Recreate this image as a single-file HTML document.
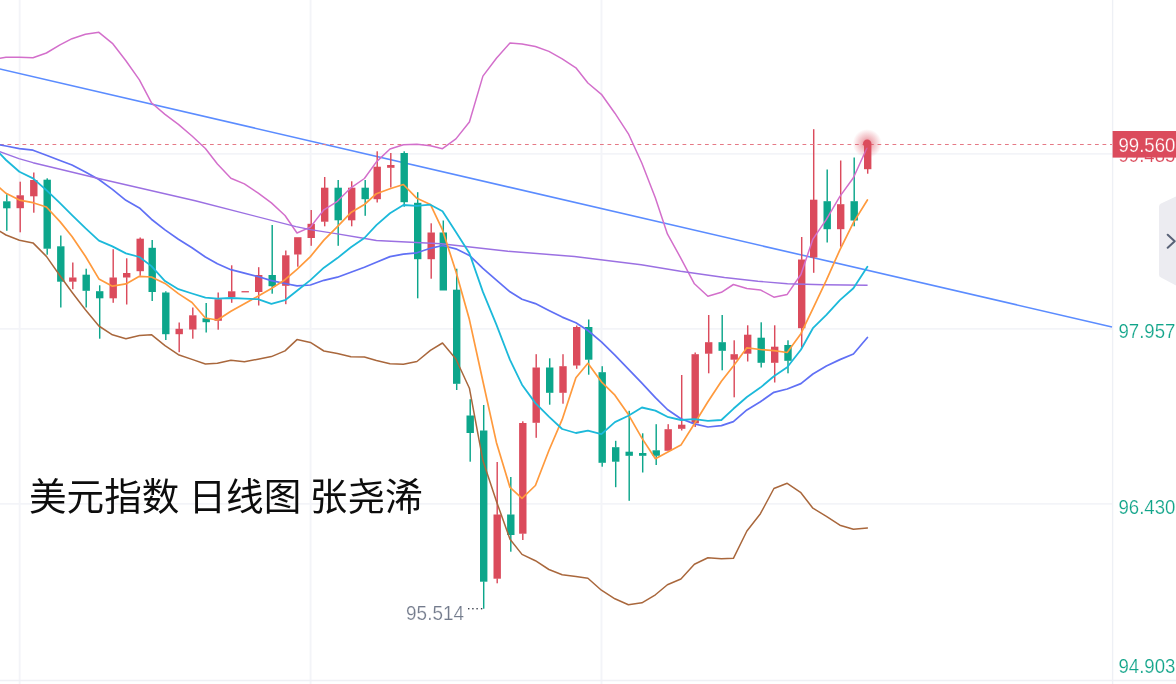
<!DOCTYPE html>
<html lang="zh-CN">
<head>
<meta charset="utf-8">
<title>美元指数 日线图</title>
<style>
html,body{margin:0;padding:0;background:#fff;}
body{width:1176px;height:684px;overflow:hidden;position:relative;font-family:"Liberation Sans","Noto Sans CJK SC",sans-serif;}
#chart{position:absolute;left:0;top:0;width:1176px;height:684px;display:block;}
.title{position:absolute;top:470.6px;height:52px;line-height:52px;font-size:37.6px;color:#0d0d0d;white-space:nowrap;font-family:"Liberation Sans","Noto Sans CJK SC",sans-serif;font-weight:400;}
svg text{font-family:"Liberation Sans","Noto Sans CJK SC",sans-serif;}
</style>
</head>
<body>
<svg id="chart" width="1176" height="684" viewBox="0 0 1176 684">
<defs>
<radialGradient id="glow" cx="50%" cy="50%" r="50%">
<stop offset="0" stop-color="#db4b5c" stop-opacity="0.7"/>
<stop offset="0.45" stop-color="#db4b5c" stop-opacity="0.36"/>
<stop offset="1" stop-color="#db4b5c" stop-opacity="0"/>
</radialGradient>
</defs>
<rect x="0" y="0" width="1176" height="684" fill="#ffffff"/>
<g stroke="#f3f4f8" stroke-width="1.9" fill="none">
<line x1="19.65" y1="0" x2="19.65" y2="684"/>
<line x1="310.56" y1="0" x2="310.56" y2="684"/>
<line x1="601.48" y1="0" x2="601.48" y2="684"/>
<line x1="0" y1="153.9" x2="1112" y2="153.9"/>
<line x1="0" y1="328.9" x2="1112" y2="328.9"/>
<line x1="0" y1="503.9" x2="1112" y2="503.9"/>
</g>
<line x1="0" y1="680.5" x2="1176" y2="680.5" stroke="#eff0f5" stroke-width="1.5"/>
<line x1="1112.6" y1="0" x2="1112.6" y2="684" stroke="#eef0f5" stroke-width="1.4"/>

<line x1="-1" y1="68.8" x2="1112" y2="327" stroke="#5b8cff" stroke-width="1.6"/>
<g>
<rect x="6.08" y="194.2" width="1.44" height="7.4" fill="#0ca68b"/>
<rect x="6.08" y="208.0" width="1.44" height="22.8" fill="#0ca68b"/>
<rect x="3.1" y="201.3" width="7.4" height="7.0" fill="#0ca68b"/>
<rect x="19.48" y="181.7" width="1.44" height="13.9" fill="#db4b5c"/>
<rect x="19.48" y="207.9" width="1.44" height="24.4" fill="#db4b5c"/>
<rect x="16.5" y="195.3" width="7.4" height="12.9" fill="#db4b5c"/>
<rect x="33.08" y="172.5" width="1.44" height="7.8" fill="#db4b5c"/>
<rect x="33.08" y="196.0" width="1.44" height="16.7" fill="#db4b5c"/>
<rect x="30.1" y="180.0" width="7.4" height="16.3" fill="#db4b5c"/>
<rect x="46.48" y="178.3" width="1.44" height="1.7" fill="#0ca68b"/>
<rect x="46.48" y="248.4" width="1.44" height="6.3" fill="#0ca68b"/>
<rect x="43.5" y="179.7" width="7.4" height="69.0" fill="#0ca68b"/>
<rect x="60.08" y="235.5" width="1.44" height="11.1" fill="#0ca68b"/>
<rect x="60.08" y="281.4" width="1.44" height="26.1" fill="#0ca68b"/>
<rect x="57.1" y="246.3" width="7.4" height="35.4" fill="#0ca68b"/>
<rect x="72.08" y="262.5" width="1.44" height="15.3" fill="#db4b5c"/>
<rect x="72.08" y="281.4" width="1.44" height="7.8" fill="#db4b5c"/>
<rect x="69.1" y="277.5" width="7.4" height="4.2" fill="#db4b5c"/>
<rect x="85.48" y="268.7" width="1.44" height="6.3" fill="#0ca68b"/>
<rect x="85.48" y="290.5" width="1.44" height="17.0" fill="#0ca68b"/>
<rect x="82.5" y="274.7" width="7.4" height="16.1" fill="#0ca68b"/>
<rect x="98.98" y="285.3" width="1.44" height="6.2" fill="#0ca68b"/>
<rect x="98.98" y="298.0" width="1.44" height="40.7" fill="#0ca68b"/>
<rect x="96.0" y="291.2" width="7.4" height="7.1" fill="#0ca68b"/>
<rect x="112.48" y="249.2" width="1.44" height="28.6" fill="#db4b5c"/>
<rect x="112.48" y="298.0" width="1.44" height="4.8" fill="#db4b5c"/>
<rect x="109.5" y="277.5" width="7.4" height="20.8" fill="#db4b5c"/>
<rect x="125.98" y="258.3" width="1.44" height="15.0" fill="#db4b5c"/>
<rect x="125.98" y="277.2" width="1.44" height="27.3" fill="#db4b5c"/>
<rect x="123.0" y="273.0" width="7.4" height="4.5" fill="#db4b5c"/>
<rect x="139.48" y="237.5" width="1.44" height="1.5" fill="#db4b5c"/>
<rect x="139.48" y="270.9" width="1.44" height="4.9" fill="#db4b5c"/>
<rect x="136.5" y="238.7" width="7.4" height="32.5" fill="#db4b5c"/>
<rect x="151.48" y="240.0" width="1.44" height="8.1" fill="#0ca68b"/>
<rect x="151.48" y="291.7" width="1.44" height="9.3" fill="#0ca68b"/>
<rect x="148.5" y="247.8" width="7.4" height="44.2" fill="#0ca68b"/>
<rect x="165.08" y="291.3" width="1.44" height="1.5" fill="#0ca68b"/>
<rect x="165.08" y="333.9" width="1.44" height="6.1" fill="#0ca68b"/>
<rect x="162.1" y="292.5" width="7.4" height="41.7" fill="#0ca68b"/>
<rect x="178.48" y="322.5" width="1.44" height="6.6" fill="#db4b5c"/>
<rect x="178.48" y="333.9" width="1.44" height="18.3" fill="#db4b5c"/>
<rect x="175.5" y="328.8" width="7.4" height="5.4" fill="#db4b5c"/>
<rect x="192.08" y="307.5" width="1.44" height="8.1" fill="#db4b5c"/>
<rect x="192.08" y="329.2" width="1.44" height="9.5" fill="#db4b5c"/>
<rect x="189.1" y="315.3" width="7.4" height="14.2" fill="#db4b5c"/>
<rect x="205.48" y="303.0" width="1.44" height="15.6" fill="#0ca68b"/>
<rect x="205.48" y="321.9" width="1.44" height="10.6" fill="#0ca68b"/>
<rect x="202.5" y="318.3" width="7.4" height="3.9" fill="#0ca68b"/>
<rect x="217.48" y="292.5" width="1.44" height="7.0" fill="#db4b5c"/>
<rect x="217.48" y="320.5" width="1.44" height="9.2" fill="#db4b5c"/>
<rect x="214.5" y="299.2" width="7.4" height="21.6" fill="#db4b5c"/>
<rect x="230.98" y="265.3" width="1.44" height="26.3" fill="#db4b5c"/>
<rect x="230.98" y="296.7" width="1.44" height="6.1" fill="#db4b5c"/>
<rect x="228.0" y="291.3" width="7.4" height="5.7" fill="#db4b5c"/>
<rect x="241.5" y="291.1" width="7.4" height="1.3" fill="#db4b5c"/>
<rect x="257.98" y="267.2" width="1.44" height="8.1" fill="#db4b5c"/>
<rect x="257.98" y="291.7" width="1.44" height="13.8" fill="#db4b5c"/>
<rect x="255.0" y="275.0" width="7.4" height="17.0" fill="#db4b5c"/>
<rect x="271.48" y="225.0" width="1.44" height="50.3" fill="#0ca68b"/>
<rect x="271.48" y="285.9" width="1.44" height="7.8" fill="#0ca68b"/>
<rect x="268.5" y="275.0" width="7.4" height="11.2" fill="#0ca68b"/>
<rect x="285.08" y="250.5" width="1.44" height="5.1" fill="#db4b5c"/>
<rect x="285.08" y="285.5" width="1.44" height="18.7" fill="#db4b5c"/>
<rect x="282.1" y="255.3" width="7.4" height="30.5" fill="#db4b5c"/>
<rect x="297.08" y="254.2" width="1.44" height="12.5" fill="#db4b5c"/>
<rect x="294.1" y="237.2" width="7.4" height="17.3" fill="#db4b5c"/>
<rect x="310.48" y="210.0" width="1.44" height="14.1" fill="#db4b5c"/>
<rect x="310.48" y="237.7" width="1.44" height="8.1" fill="#db4b5c"/>
<rect x="307.5" y="223.8" width="7.4" height="14.2" fill="#db4b5c"/>
<rect x="323.98" y="177.0" width="1.44" height="11.0" fill="#db4b5c"/>
<rect x="323.98" y="221.4" width="1.44" height="4.9" fill="#db4b5c"/>
<rect x="321.0" y="187.7" width="7.4" height="34.0" fill="#db4b5c"/>
<rect x="337.48" y="180.0" width="1.44" height="8.0" fill="#0ca68b"/>
<rect x="337.48" y="220.0" width="1.44" height="25.8" fill="#0ca68b"/>
<rect x="334.5" y="187.7" width="7.4" height="32.6" fill="#0ca68b"/>
<rect x="350.98" y="181.3" width="1.44" height="6.7" fill="#db4b5c"/>
<rect x="350.98" y="220.0" width="1.44" height="6.3" fill="#db4b5c"/>
<rect x="348.0" y="187.7" width="7.4" height="32.6" fill="#db4b5c"/>
<rect x="364.48" y="180.0" width="1.44" height="8.0" fill="#0ca68b"/>
<rect x="364.48" y="198.9" width="1.44" height="16.9" fill="#0ca68b"/>
<rect x="361.5" y="187.7" width="7.4" height="11.5" fill="#0ca68b"/>
<rect x="376.48" y="151.3" width="1.44" height="15.7" fill="#db4b5c"/>
<rect x="376.48" y="198.9" width="1.44" height="3.6" fill="#db4b5c"/>
<rect x="373.5" y="166.7" width="7.4" height="32.5" fill="#db4b5c"/>
<rect x="390.08" y="153.0" width="1.44" height="12.3" fill="#db4b5c"/>
<rect x="390.08" y="167.5" width="1.44" height="20.0" fill="#db4b5c"/>
<rect x="387.1" y="165.0" width="7.4" height="2.8" fill="#db4b5c"/>
<rect x="403.48" y="151.3" width="1.44" height="2.0" fill="#0ca68b"/>
<rect x="403.48" y="201.9" width="1.44" height="4.8" fill="#0ca68b"/>
<rect x="400.5" y="153.0" width="7.4" height="49.2" fill="#0ca68b"/>
<rect x="416.98" y="192.2" width="1.44" height="10.9" fill="#0ca68b"/>
<rect x="416.98" y="258.9" width="1.44" height="39.4" fill="#0ca68b"/>
<rect x="414.0" y="202.8" width="7.4" height="56.4" fill="#0ca68b"/>
<rect x="430.48" y="223.3" width="1.44" height="9.5" fill="#db4b5c"/>
<rect x="430.48" y="258.9" width="1.44" height="19.8" fill="#db4b5c"/>
<rect x="427.5" y="232.5" width="7.4" height="26.7" fill="#db4b5c"/>
<rect x="442.58" y="220.5" width="1.44" height="12.3" fill="#0ca68b"/>
<rect x="439.6" y="232.5" width="7.4" height="58.0" fill="#0ca68b"/>
<rect x="455.98" y="268.7" width="1.44" height="21.3" fill="#0ca68b"/>
<rect x="455.98" y="383.5" width="1.44" height="6.5" fill="#0ca68b"/>
<rect x="453.0" y="289.7" width="7.4" height="94.1" fill="#0ca68b"/>
<rect x="469.48" y="399.2" width="1.44" height="16.6" fill="#0ca68b"/>
<rect x="469.48" y="432.7" width="1.44" height="29.0" fill="#0ca68b"/>
<rect x="466.5" y="415.5" width="7.4" height="17.5" fill="#0ca68b"/>
<rect x="482.98" y="405.0" width="1.44" height="25.8" fill="#0ca68b"/>
<rect x="482.98" y="581.4" width="1.44" height="27.3" fill="#0ca68b"/>
<rect x="480.0" y="430.5" width="7.4" height="151.2" fill="#0ca68b"/>
<rect x="496.48" y="462.0" width="1.44" height="52.8" fill="#db4b5c"/>
<rect x="496.48" y="578.4" width="1.44" height="4.9" fill="#db4b5c"/>
<rect x="493.5" y="514.5" width="7.4" height="64.2" fill="#db4b5c"/>
<rect x="510.08" y="477.0" width="1.44" height="37.8" fill="#0ca68b"/>
<rect x="510.08" y="534.7" width="1.44" height="17.0" fill="#0ca68b"/>
<rect x="507.1" y="514.5" width="7.4" height="20.5" fill="#0ca68b"/>
<rect x="522.08" y="421.3" width="1.44" height="2.0" fill="#db4b5c"/>
<rect x="522.08" y="533.4" width="1.44" height="6.6" fill="#db4b5c"/>
<rect x="519.1" y="423.0" width="7.4" height="110.7" fill="#db4b5c"/>
<rect x="535.48" y="354.2" width="1.44" height="13.6" fill="#db4b5c"/>
<rect x="535.48" y="422.5" width="1.44" height="15.3" fill="#db4b5c"/>
<rect x="532.5" y="367.5" width="7.4" height="55.3" fill="#db4b5c"/>
<rect x="548.98" y="358.3" width="1.44" height="9.5" fill="#0ca68b"/>
<rect x="548.98" y="392.5" width="1.44" height="12.2" fill="#0ca68b"/>
<rect x="546.0" y="367.5" width="7.4" height="25.3" fill="#0ca68b"/>
<rect x="562.28" y="354.2" width="1.44" height="12.3" fill="#db4b5c"/>
<rect x="562.28" y="392.5" width="1.44" height="11.2" fill="#db4b5c"/>
<rect x="559.3" y="366.2" width="7.4" height="26.6" fill="#db4b5c"/>
<rect x="575.98" y="325.5" width="1.44" height="1.8" fill="#db4b5c"/>
<rect x="575.98" y="365.2" width="1.44" height="3.6" fill="#db4b5c"/>
<rect x="573.0" y="327.0" width="7.4" height="38.5" fill="#db4b5c"/>
<rect x="587.98" y="319.5" width="1.44" height="7.8" fill="#0ca68b"/>
<rect x="587.98" y="359.4" width="1.44" height="15.3" fill="#0ca68b"/>
<rect x="585.0" y="327.0" width="7.4" height="32.7" fill="#0ca68b"/>
<rect x="601.48" y="366.2" width="1.44" height="6.3" fill="#0ca68b"/>
<rect x="601.48" y="462.5" width="1.44" height="4.2" fill="#0ca68b"/>
<rect x="598.5" y="372.2" width="7.4" height="90.6" fill="#0ca68b"/>
<rect x="614.98" y="440.8" width="1.44" height="6.7" fill="#0ca68b"/>
<rect x="614.98" y="461.4" width="1.44" height="25.8" fill="#0ca68b"/>
<rect x="612.0" y="447.2" width="7.4" height="14.5" fill="#0ca68b"/>
<rect x="628.48" y="410.8" width="1.44" height="41.2" fill="#0ca68b"/>
<rect x="628.48" y="455.5" width="1.44" height="45.3" fill="#0ca68b"/>
<rect x="625.5" y="451.7" width="7.4" height="4.1" fill="#0ca68b"/>
<rect x="641.98" y="433.3" width="1.44" height="20.0" fill="#0ca68b"/>
<rect x="641.98" y="455.5" width="1.44" height="17.0" fill="#0ca68b"/>
<rect x="639.0" y="453.0" width="7.4" height="2.8" fill="#0ca68b"/>
<rect x="655.48" y="424.2" width="1.44" height="26.4" fill="#0ca68b"/>
<rect x="655.48" y="455.5" width="1.44" height="9.5" fill="#0ca68b"/>
<rect x="652.5" y="450.3" width="7.4" height="5.5" fill="#0ca68b"/>
<rect x="667.48" y="424.2" width="1.44" height="5.3" fill="#db4b5c"/>
<rect x="664.5" y="429.2" width="7.4" height="21.6" fill="#db4b5c"/>
<rect x="680.98" y="375.0" width="1.44" height="50.0" fill="#db4b5c"/>
<rect x="680.98" y="428.5" width="1.44" height="2.0" fill="#db4b5c"/>
<rect x="678.0" y="424.7" width="7.4" height="4.1" fill="#db4b5c"/>
<rect x="694.48" y="352.5" width="1.44" height="2.0" fill="#db4b5c"/>
<rect x="694.48" y="423.0" width="1.44" height="4.0" fill="#db4b5c"/>
<rect x="691.5" y="354.2" width="7.4" height="69.1" fill="#db4b5c"/>
<rect x="707.98" y="315.0" width="1.44" height="27.5" fill="#db4b5c"/>
<rect x="707.98" y="353.4" width="1.44" height="19.9" fill="#db4b5c"/>
<rect x="705.0" y="342.2" width="7.4" height="11.5" fill="#db4b5c"/>
<rect x="721.48" y="315.0" width="1.44" height="27.5" fill="#0ca68b"/>
<rect x="721.48" y="350.5" width="1.44" height="19.8" fill="#0ca68b"/>
<rect x="718.5" y="342.2" width="7.4" height="8.6" fill="#0ca68b"/>
<rect x="733.48" y="340.3" width="1.44" height="14.2" fill="#db4b5c"/>
<rect x="733.48" y="359.4" width="1.44" height="37.9" fill="#db4b5c"/>
<rect x="730.5" y="354.2" width="7.4" height="5.5" fill="#db4b5c"/>
<rect x="746.98" y="325.3" width="1.44" height="9.7" fill="#db4b5c"/>
<rect x="746.98" y="353.4" width="1.44" height="8.1" fill="#db4b5c"/>
<rect x="744.0" y="334.7" width="7.4" height="19.0" fill="#db4b5c"/>
<rect x="760.48" y="322.3" width="1.44" height="15.7" fill="#0ca68b"/>
<rect x="760.48" y="362.5" width="1.44" height="5.0" fill="#0ca68b"/>
<rect x="757.5" y="337.7" width="7.4" height="25.1" fill="#0ca68b"/>
<rect x="773.98" y="325.3" width="1.44" height="21.7" fill="#db4b5c"/>
<rect x="773.98" y="362.5" width="1.44" height="20.0" fill="#db4b5c"/>
<rect x="771.0" y="346.7" width="7.4" height="16.1" fill="#db4b5c"/>
<rect x="787.28" y="340.3" width="1.44" height="5.0" fill="#0ca68b"/>
<rect x="787.28" y="360.5" width="1.44" height="12.8" fill="#0ca68b"/>
<rect x="784.3" y="345.0" width="7.4" height="15.8" fill="#0ca68b"/>
<rect x="800.98" y="237.0" width="1.44" height="22.8" fill="#db4b5c"/>
<rect x="800.98" y="327.9" width="1.44" height="19.6" fill="#db4b5c"/>
<rect x="798.0" y="259.5" width="7.4" height="68.7" fill="#db4b5c"/>
<rect x="812.98" y="129.2" width="1.44" height="70.8" fill="#db4b5c"/>
<rect x="812.98" y="257.2" width="1.44" height="15.6" fill="#db4b5c"/>
<rect x="810.0" y="199.7" width="7.4" height="57.8" fill="#db4b5c"/>
<rect x="826.48" y="169.5" width="1.44" height="32.0" fill="#0ca68b"/>
<rect x="826.48" y="228.9" width="1.44" height="13.6" fill="#0ca68b"/>
<rect x="823.5" y="201.2" width="7.4" height="28.0" fill="#0ca68b"/>
<rect x="839.98" y="160.5" width="1.44" height="44.0" fill="#db4b5c"/>
<rect x="839.98" y="228.9" width="1.44" height="17.8" fill="#db4b5c"/>
<rect x="837.0" y="204.2" width="7.4" height="25.0" fill="#db4b5c"/>
<rect x="853.48" y="157.5" width="1.44" height="44.0" fill="#0ca68b"/>
<rect x="853.48" y="220.2" width="1.44" height="6.1" fill="#0ca68b"/>
<rect x="850.5" y="201.2" width="7.4" height="19.3" fill="#0ca68b"/>
<rect x="866.98" y="168.9" width="1.44" height="4.8" fill="#db4b5c"/>
<rect x="864.0" y="144.2" width="7.4" height="25.0" fill="#db4b5c"/>
</g>
<line x1="0" y1="144.5" x2="1112" y2="144.5" stroke="#e57985" stroke-width="1.15" stroke-dasharray="3.75 3.75"/>
<polyline points="-1.0,58.4 6.0,57.3 19.4,57.3 33.0,57.7 46.4,53.0 60.0,44.8 72.0,38.7 85.4,34.3 98.9,32.3 112.4,43.3 125.9,60.7 139.4,79.9 151.4,102.7 165.0,114.4 178.4,124.4 192.0,136.0 205.4,148.5 217.4,164.0 230.9,178.2 244.4,183.9 257.9,192.9 271.4,202.9 285.0,215.5 297.0,233.0 310.4,227.1 323.9,209.8 337.4,201.3 350.9,187.8 364.4,178.5 376.4,161.9 390.0,149.0 403.4,144.7 416.9,144.2 430.4,145.7 442.5,148.7 455.9,138.9 469.4,122.0 482.9,76.1 496.4,58.2 510.0,43.0 522.0,43.9 535.4,46.5 548.9,51.4 562.2,58.8 575.9,67.8 587.9,83.0 601.4,94.3 614.9,113.2 628.4,133.8 641.9,163.2 655.4,197.9 667.4,233.9 680.9,258.3 694.4,283.8 707.9,296.3 721.4,292.3 733.4,284.5 746.9,288.5 760.4,289.9 773.9,297.2 787.2,294.4 800.9,274.5 812.9,239.1 826.4,219.4 839.9,196.4 853.4,177.8 867.4,147.0" fill="none" stroke="#d36fcb" stroke-width="1.5" stroke-linejoin="round" stroke-linecap="round"/>
<polyline points="-1.0,230.7 6.0,235.0 19.4,240.2 33.0,242.9 46.4,256.4 60.0,275.8 72.0,292.2 85.4,309.7 98.9,326.0 112.4,334.8 125.9,338.7 139.4,335.5 151.4,334.7 165.0,345.6 178.4,354.7 192.0,359.4 205.4,364.0 217.4,363.3 230.9,360.3 244.4,361.7 257.9,359.2 271.4,356.6 285.0,350.9 297.0,339.6 310.4,342.4 323.9,351.0 337.4,353.4 350.9,356.8 364.4,357.0 376.4,360.5 390.0,363.8 403.4,364.3 416.9,361.5 430.4,350.4 442.5,343.0 455.9,359.0 469.4,388.2 482.9,460.6 496.4,501.2 510.0,539.3 522.0,554.4 535.4,560.7 548.9,569.5 562.2,574.7 575.9,576.4 587.9,578.2 601.4,590.2 614.9,598.8 628.4,604.7 641.9,602.8 655.4,594.8 667.4,584.7 680.9,579.0 694.4,564.2 707.9,557.7 721.4,558.7 733.4,558.3 746.9,531.0 760.4,513.7 773.9,488.5 787.2,483.3 800.9,492.7 812.9,508.2 826.4,516.3 839.9,525.2 853.4,529.3 867.4,528.0" fill="none" stroke="#a9673c" stroke-width="1.5" stroke-linejoin="round" stroke-linecap="round"/>
<polyline points="-1.0,144.6 6.0,146.0 19.4,148.6 33.0,150.2 46.4,155.2 60.0,160.5 72.0,165.0 85.4,171.9 98.9,179.5 112.4,189.4 125.9,200.3 139.4,207.9 151.4,219.2 165.0,229.9 178.4,239.2 192.0,247.8 205.4,257.0 217.4,263.8 230.9,269.7 244.4,273.1 257.9,276.5 271.4,280.6 285.0,283.5 297.0,285.8 310.4,285.0 323.9,280.3 337.4,277.2 350.9,272.3 364.4,267.3 376.4,262.3 390.0,256.6 403.4,254.1 416.9,252.8 430.4,248.3 442.5,245.5 455.9,248.8 469.4,255.4 482.9,268.4 496.4,280.1 510.0,291.8 522.0,299.2 535.4,303.6 548.9,310.4 562.2,317.1 575.9,322.7 587.9,330.5 601.4,341.8 614.9,355.2 628.4,369.2 641.9,383.2 655.4,397.6 667.4,409.5 680.9,418.7 694.4,423.9 707.9,427.0 721.4,425.6 733.4,421.6 746.9,409.9 760.4,401.8 773.9,392.3 787.2,389.0 800.9,383.6 812.9,374.0 826.4,366.0 839.9,359.6 853.4,354.0 867.4,337.5" fill="none" stroke="#6070f5" stroke-width="1.72" stroke-linejoin="round" stroke-linecap="round"/>
<polyline points="-1.0,151.4 18.9,158.7 33.0,162.7 97.5,178.3 195.2,200.8 296.0,226.6 310.4,229.6 337.4,233.9 363.5,238.3 376.4,240.5 391.2,241.3 441.2,243.7 507.9,251.3 574.5,256.5 641.2,264.7 680.5,271.3 724.5,277.5 757.9,281.3 787.5,283.7 823.4,284.7 867.6,285.3" fill="none" stroke="#9b70e2" stroke-width="1.4" stroke-linejoin="round"/>
<polyline points="-1.0,187.3 6.0,193.3 19.4,200.1 33.0,202.7 46.4,207.0 60.0,221.6 72.0,236.5 85.4,256.3 98.9,278.9 112.4,286.2 125.9,283.9 139.4,276.3 151.4,277.0 165.0,283.4 178.4,293.6 192.0,302.5 205.4,318.0 217.4,320.0 230.9,311.3 244.4,303.7 257.9,296.2 271.4,288.5 285.0,279.7 297.0,269.3 310.4,256.6 323.9,240.1 337.4,226.6 350.9,212.6 364.4,204.5 376.4,193.7 390.0,188.8 403.4,184.5 416.9,198.3 430.4,204.4 442.5,229.9 455.9,271.5 469.4,319.6 482.9,381.3 496.4,442.4 510.0,487.4 522.0,498.3 535.4,485.5 548.9,450.5 562.2,419.4 575.9,377.8 587.9,363.3 601.4,381.8 614.9,395.2 628.4,414.6 641.9,438.1 655.4,458.7 667.4,452.2 680.9,445.1 694.4,423.8 707.9,401.8 721.4,381.2 733.4,366.0 746.9,347.8 760.4,349.5 773.9,350.7 787.2,352.5 800.9,333.7 812.9,308.7 826.4,280.2 839.9,249.8 853.4,222.6 867.4,200.0" fill="none" stroke="#ff9a3d" stroke-width="1.7" stroke-linejoin="round" stroke-linecap="round"/>
<polyline points="-1.0,152.8 6.0,160.0 19.4,171.8 33.0,178.4 46.4,190.1 60.0,203.2 72.0,215.2 85.4,228.2 98.9,240.6 112.4,246.4 125.9,253.4 139.4,257.0 151.4,266.1 165.0,281.1 178.4,289.2 192.0,293.5 205.4,297.7 217.4,298.7 230.9,298.0 244.4,298.7 257.9,299.2 271.4,303.8 285.0,300.2 297.0,290.7 310.4,280.1 323.9,267.7 337.4,258.1 350.9,247.3 364.4,238.0 376.4,225.1 390.0,213.2 403.4,205.0 416.9,205.8 430.4,204.7 442.5,211.2 455.9,232.0 469.4,253.2 482.9,291.9 496.4,324.6 510.0,359.9 522.0,384.7 535.4,403.1 548.9,416.7 562.2,429.0 575.9,433.0 587.9,430.6 601.4,434.2 614.9,422.1 628.4,415.7 641.9,407.5 655.4,410.6 667.4,416.8 680.9,420.0 694.4,419.2 707.9,420.8 721.4,420.0 733.4,408.8 746.9,397.0 760.4,387.6 773.9,376.2 787.2,367.2 800.9,349.8 812.9,328.2 826.4,314.9 839.9,300.1 853.4,288.2 867.4,266.7" fill="none" stroke="#1cb9da" stroke-width="1.8" stroke-linejoin="round" stroke-linecap="round"/>
<circle cx="867.2" cy="143.6" r="14.5" fill="url(#glow)"/>
<circle cx="867.2" cy="143.6" r="4.2" fill="#db4b5c"/>
<g fill="#3a404b">
<rect x="468.0" y="608.0" width="1.4" height="1.4"/>
<rect x="472.2" y="608.0" width="1.4" height="1.4"/>
<rect x="476.4" y="608.0" width="1.4" height="1.4"/>
<rect x="480.9" y="608.0" width="1.4" height="1.4"/>
</g>
<text x="406.1" y="619.7" font-size="20" fill="#737b8c" stroke="#ffffff" stroke-width="0.22" textLength="57.9" lengthAdjust="spacingAndGlyphs">95.514</text>
<text x="1118.5" y="162.2" font-size="20.5" fill="#db4b5c" stroke="#ffffff" stroke-width="0.22" textLength="56.9" lengthAdjust="spacingAndGlyphs">99.485</text>
<rect x="1112.6" y="131" width="63.4" height="26.6" fill="#db4b5c"/>
<text x="1118.5" y="151.9" font-size="20.5" fill="#ffffff" stroke="#db4b5c" stroke-width="0.25" textLength="56.9" lengthAdjust="spacingAndGlyphs">99.560</text>
<g fill="#10a489" font-size="20.5" stroke="#ffffff" stroke-width="0.22">
<text x="1118.5" y="338" textLength="56.9" lengthAdjust="spacingAndGlyphs">97.957</text>
<text x="1118.5" y="514" textLength="56.9" lengthAdjust="spacingAndGlyphs">96.430</text>
<text x="1118.5" y="673" textLength="56.9" lengthAdjust="spacingAndGlyphs">94.903</text>
</g>
<path d="M1176 196.6 L1161 203.6 Q1159 204.6 1159 206.8 L1159 274.4 Q1159 276.6 1161 277.6 L1176 285.4 Z" fill="#ececf1"/>
<path d="M1167.7 234.7 L1174.7 241.2 L1167.7 247.7" fill="none" stroke="#596277" stroke-width="2" stroke-linecap="round" stroke-linejoin="round"/>
</svg>
<div class="title" style="left:29px;"><span>美元指数</span> <span style="margin-left:-1.25px;">日线图</span> <span style="margin-left:-1.85px;">张尧浠</span></div>
</body>
</html>
